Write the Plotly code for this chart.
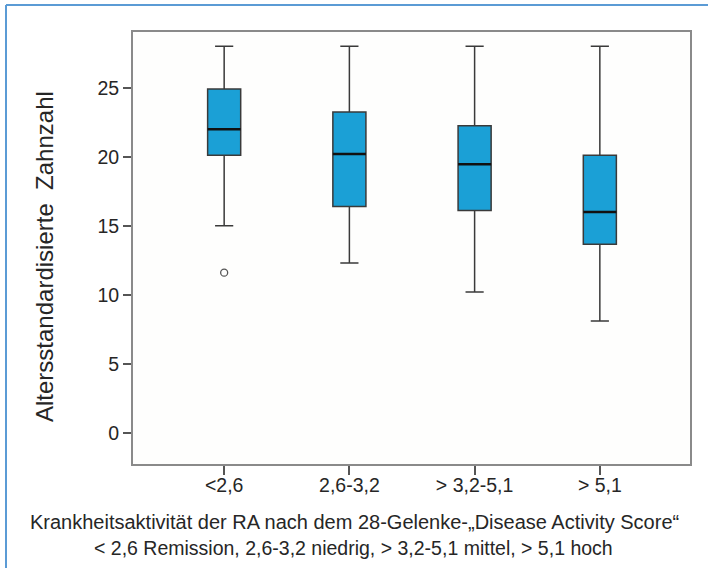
import plotly.graph_objects as go

categories = ["<2,6", "2,6-3,2", "> 3,2-5,1", "> 5,1"]
lower_whisker = [15.0, 12.3, 10.2, 8.1]
q1 = [20.1, 16.4, 16.1, 13.65]
median = [22.0, 20.2, 19.45, 16.0]
q3 = [24.9, 23.25, 22.25, 20.1]
upper_whisker = [28.0, 28.0, 28.0, 28.0]
outlier_cat = [0]
outlier_val = [11.6]
y_ticks = [0, 5, 10, 15, 20, 25]

pos = list(range(len(categories)))
box_w = 0.264

L, R, T, B = 133, 690, 32, 464
PW, PH = R - L, B - T

def px(x):
    return (x - L) / PW

def py(y):
    return (B - y) / PH

fig = go.Figure()
fig.add_trace(go.Box(
    x=pos, q1=q1, median=median, q3=q3,
    lowerfence=lower_whisker, upperfence=upper_whisker,
    width=box_w, whiskerwidth=0.55,
    fillcolor="#1BA0D6", line=dict(color="#3a3a3a", width=1.5),
    boxpoints=False, showlegend=False, hoverinfo="skip"))

mx, my = [], []
for i, m in zip(pos, median):
    mx += [i - box_w / 2, i + box_w / 2, None]
    my += [m, m, None]
fig.add_trace(go.Scatter(x=mx, y=my, mode="lines",
                         line=dict(color="#111111", width=2.5),
                         showlegend=False, hoverinfo="skip"))

fig.add_trace(go.Scatter(x=outlier_cat, y=outlier_val, mode="markers",
                         marker=dict(symbol="circle-open", size=7,
                                     color="#555555", line=dict(width=1.3)),
                         showlegend=False, hoverinfo="skip"))

font = "Liberation Sans, Arial, sans-serif"
txt = "#262626"
fig.update_layout(
    width=708, height=568,
    margin=dict(l=L, r=708 - R, t=T, b=568 - B),
    paper_bgcolor="white", plot_bgcolor="#fefefd",
    font=dict(family=font, color=txt),
    xaxis=dict(range=[-0.728, 3.72], tickvals=pos, ticktext=categories,
               showgrid=False, zeroline=False, showline=True, mirror=True,
               linecolor="#8a8a8a", linewidth=2, ticks="outside", ticklen=9,
               tickcolor="#555555", tickwidth=1.5, ticklabelstandoff=-6,
               tickfont=dict(size=19.5, color=txt)),
    yaxis=dict(range=[-2.27, 29.04], tickvals=y_ticks,
               showgrid=False, zeroline=False, showline=True, mirror=True,
               linecolor="#8a8a8a", linewidth=2, ticks="outside", ticklen=8,
               tickcolor="#555555", tickwidth=1.5,
               tickfont=dict(size=19.5, color=txt)),
    annotations=[
        dict(text="Altersstandardisierte  Zahnzahl", textangle=-90,
             xref="paper", yref="paper", x=px(44), y=py(257),
             xanchor="center", yanchor="middle", showarrow=False,
             font=dict(size=24, color=txt)),
        dict(text="Krankheitsaktivität der RA nach dem 28-Gelenke-„Disease Activity Score“",
             xref="paper", yref="paper", x=px(354), y=py(522),
             xanchor="center", yanchor="middle", showarrow=False,
             font=dict(size=20, color=txt)),
        dict(text="< 2,6 Remission, 2,6-3,2 niedrig, > 3,2-5,1 mittel, > 5,1 hoch",
             xref="paper", yref="paper", x=px(353), y=py(548),
             xanchor="center", yanchor="middle", showarrow=False,
             font=dict(size=19.5, color=txt)),
    ],
    shapes=[
        dict(type="line", xref="paper", yref="paper",
             x0=px(6), x1=px(720), y0=py(5), y1=py(5),
             line=dict(color="#5b9bd5", width=2)),
        dict(type="line", xref="paper", yref="paper",
             x0=px(6), x1=px(6), y0=py(5), y1=py(580),
             line=dict(color="#5b9bd5", width=2)),
    ],
)

fig.write_html("out.html", config={"displayModeBar": False},
               post_script="document.body.style.margin='0';document.body.style.overflow='hidden';")
